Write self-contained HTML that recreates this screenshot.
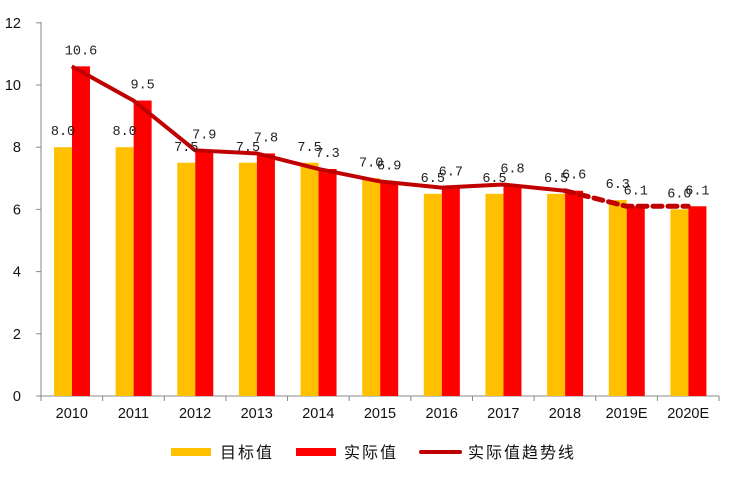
<!DOCTYPE html>
<html><head><meta charset="utf-8"><style>
html,body{margin:0;padding:0;background:#fff;width:742px;height:480px;overflow:hidden}
svg text{font-family:"Liberation Sans","Noto Sans CJK SC",sans-serif}
.v{font-family:"Liberation Mono",monospace;font-size:13.5px;fill:#222;text-anchor:middle}
.ax{font-size:14.5px;fill:#111}
.lg{font-family:"Noto Sans CJK SC","WenQuanYi Zen Hei",sans-serif;font-size:16px;fill:#111;letter-spacing:2px}
</style></head><body>
<svg width="742" height="480" xmlns="http://www.w3.org/2000/svg">
<g id="chart"></g>
</svg>
<script>
const g=document.getElementById('chart');
const ns='http://www.w3.org/2000/svg';
function el(t,a,txt){const e=document.createElementNS(ns,t);for(const k in a)e.setAttribute(k,a[k]);if(txt!==undefined)e.textContent=txt;g.appendChild(e);return e;}
const y0=396,u=31.1,x0=41,cw=61.64;
const yrs=['2010','2011','2012','2013','2014','2015','2016','2017','2018','2019E','2020E'];
const tgt=[8.0,8.0,7.5,7.5,7.5,7.0,6.5,6.5,6.5,6.3,6.0];
const act=[10.6,9.5,7.9,7.8,7.3,6.9,6.7,6.8,6.6,6.1,6.1];
const Y=v=>y0-v*u;
// axes
el('line',{x1:x0,y1:22,x2:x0,y2:y0,stroke:'#888','stroke-width':1});
el('line',{x1:x0,y1:y0,x2:x0+11*cw,y2:y0,stroke:'#888','stroke-width':1});
for(let i=0;i<=6;i++){const y=Y(i*2);el('line',{x1:36,y1:y,x2:x0,y2:y,stroke:'#888'});el('text',{x:21,y:y+5,'text-anchor':'end',class:'ax'},String(i*2));}
for(let i=0;i<=11;i++){const x=x0+i*cw;el('line',{x1:x,y1:y0,x2:x,y2:y0+5,stroke:'#888'});}
for(let i=0;i<11;i++){
 const l=x0+i*cw;
 el('rect',{x:l+13,y:Y(tgt[i]),width:18,height:tgt[i]*u,fill:'#FFC000'});
 el('rect',{x:l+31,y:Y(act[i]),width:18,height:act[i]*u,fill:'#FF0000'});
 el('text',{x:l+30.8,y:418,'text-anchor':'middle',class:'ax'},yrs[i]);
}
// line
let pts=[];for(let i=0;i<11;i++)pts.push([x0+i*cw+30.8,Y(act[i])]);
el('polyline',{points:pts.slice(0,9).map(p=>p.join(',')).join(' '),fill:'none',stroke:'#C00000','stroke-width':4,'stroke-linejoin':'round'});
el('polyline',{points:pts.slice(8).map(p=>p.join(',')).join(' '),fill:'none',stroke:'#C00000','stroke-width':5,'stroke-dasharray':'9 6','stroke-linecap':'round'});
// labels
for(let i=0;i<11;i++){
 const l=x0+i*cw;
 el('text',{x:l+22,y:Y(tgt[i])-12,class:'v'},tgt[i].toFixed(1));
 el('text',{x:l+40,y:Y(act[i])-12,class:'v'},act[i].toFixed(1));
}
// legend
el('rect',{x:171,y:448,width:40,height:8,fill:'#FFC000'});
el('text',{x:220,y:458,class:'lg'},'目标值');
el('rect',{x:296,y:448,width:40,height:8,fill:'#FF0000'});
el('text',{x:344,y:458,class:'lg'},'实际值');
el('line',{x1:421,y1:452,x2:460,y2:452,stroke:'#C00000','stroke-width':4,'stroke-linecap':'round'});
el('text',{x:468,y:458,class:'lg'},'实际值趋势线');
</script>
</body></html>
